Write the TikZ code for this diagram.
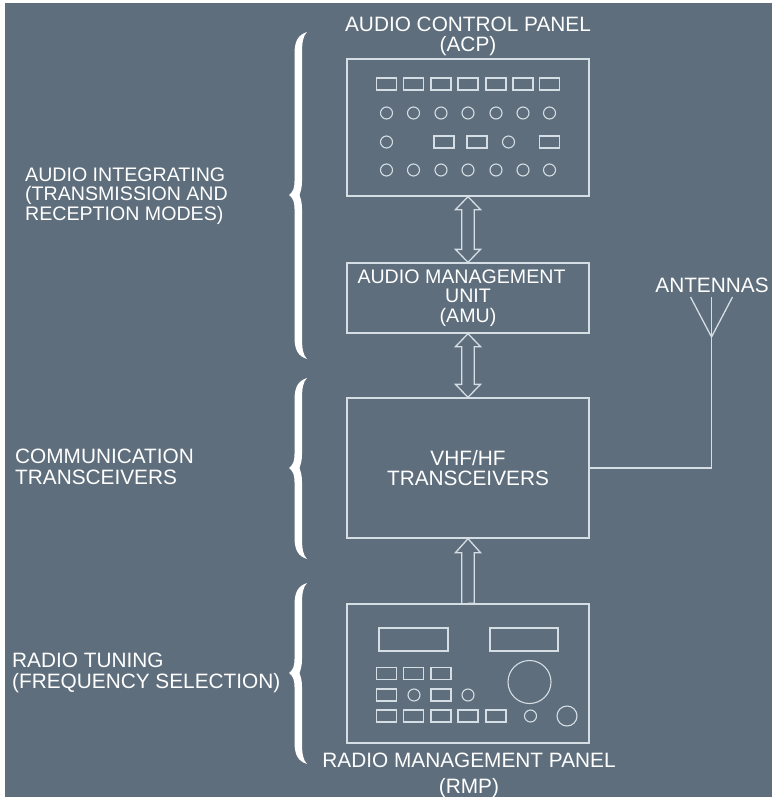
\documentclass[tikz,border=0pt]{standalone}
\usepackage{fontspec}
\setmainfont{Liberation Sans}
\usetikzlibrary{calc}
\definecolor{panelbg}{HTML}{5E6E7C}
\definecolor{panelline}{HTML}{D5DEE4}
\tikzset{
  unitbox/.style={draw=panelline, line width=1.3pt, minimum width=242pt, align=center, inner sep=0pt, text=white, font=\fontsize{20.8}{19.5}\selectfont},
  caption/.style={text=white, align=center, inner sep=0pt, font=\fontsize{20.8}{20}\selectfont},
  sidelabel/.style={text=white, align=left, inner sep=0pt, anchor=west, font=\fontsize{20.8}{20.5}\selectfont},
  smalltext/.style={font=\fontsize{19.6}{19.5}\selectfont},
  wire/.style={draw=panelline, line width=1.3pt},
  fitting/.style={draw=panelline, line width=1.1pt},
  hollowboth/.style={to path={(\tikztostart) -- ++(12.5,13) -- ++(-6.2,0) -- ($(\tikztotarget)+(6.2,-13)$) -- ++(6.3,0) -- (\tikztotarget) -- ++(-12.5,-13) -- ++(6.3,0) -- ($(\tikztostart)+(-6.2,13)$) -- ++(-6.3,0) -- cycle}},
  hollowup/.style={to path={(\tikztostart) -- ($(\tikztostart)+(6.2,0)$) -- ($(\tikztotarget)+(6.2,14)$) -- ++(6.3,0) -- (\tikztotarget) -- ++(-12.5,14) -- ++(6.3,0) -- ($(\tikztostart)+(-6.2,0)$)}}
}
% brace: top, point, bottom
\newcommand{\sidebrace}[3]{
  \fill[white] (307,#1) .. controls (298,#1+3) and (294.5,#1+9) .. (294.5,#1+22) -- (294.5,#2-14)
    .. controls (294.5,#2-7) and (293,#2-3) .. (289,#2) .. controls (293,#2+3) and (294.5,#2+7) .. (294.5,#2+14)
    -- (294.5,#3-22) .. controls (294.5,#3-9) and (298,#3-3) .. (307,#3)
    .. controls (303,#3-4) and (302,#3-10) .. (302,#3-22) -- (302,#2+14)
    .. controls (302,#2+7) and (300.5,#2+3) .. (299.5,#2) .. controls (300.5,#2-3) and (302,#2-7) .. (302,#2-14)
    -- (302,#1+22) .. controls (302,#1+10) and (303,#1+4) .. (307,#1) -- cycle;
}
\newcommand{\btn}[3]{\draw[fitting] (#1-#3,#2-6) rectangle (#1+#3,#2+6);}
\newcommand{\knob}[3]{\draw[fitting] (#1,#2) circle (#3);}

\begin{document}
\begin{tikzpicture}[x=1pt,y=-1pt]
\useasboundingbox (0,0) rectangle (772,797);
\fill[panelbg] (5,3) rectangle (772,797);

\node[unitbox, minimum height=137pt] (acp) at (468,127.5) {};
\node[unitbox, smalltext, minimum height=70pt] (amu) at (468,298) {AUDIO MANAGEMENT\hspace*{13pt}\\UNIT\\(AMU)};
\node[unitbox, minimum height=140pt] (vhf) at (468,468) {VHF/HF\\TRANSCEIVERS};
\node[unitbox, minimum height=139pt] (rmp) at (468,673.5) {};

\node[caption] (acptitle) at (468,36) {AUDIO CONTROL PANEL\\(ACP)};
\node[caption] (rmptitle) at (469,760) {RADIO MANAGEMENT PANEL};
\node[caption] (rmpshort) at (469,788) {(RMP)};
\node[caption] (anttitle) at (712,285) {ANTENNAS};

\node[sidelabel, smalltext] (audiolabel) at (25,196) {AUDIO INTEGRATING\\(TRANSMISSION AND\\RECEPTION MODES)};
\node[sidelabel] (commlabel) at (15,467) {COMMUNICATION\\TRANSCEIVERS};
\node[sidelabel] (tunelabel) at (12,673) {RADIO TUNING\\(FREQUENCY SELECTION)};

\sidebrace{32}{195}{359}
\sidebrace{378}{468}{559}
\sidebrace{583}{673}{764}

\draw[wire] (acp.south) to[hollowboth] (amu.north);
\draw[wire] (amu.south) to[hollowboth] (vhf.north);
\draw[wire] (rmp.north) to[hollowup] (vhf.south);

\coordinate (antfoot) at (711.5,337);
\coordinate (antleft) at (690.5,297);
\coordinate (antmid) at (711.5,297);
\coordinate (antright) at (732.5,297);
\draw[wire] (vhf.east) -| (antfoot);
\draw[wire] (antleft) -- (antfoot) -- (antright);
\draw[wire] (antmid) -- (antfoot);

% acp controls
\foreach \x in {386.5,413.5,441,468,496,523,549.5} {
  \btn{\x}{84}{10}
  \knob{\x}{113}{6}
  \knob{\x}{170}{6}
}
\knob{386.5}{142}{6}
\btn{444}{142}{10}
\btn{477}{142}{10}
\knob{508.5}{142}{6}
\btn{549.5}{142}{10}

% rmp controls
\draw[fitting] (379,628) rectangle (448,651);
\draw[fitting] (490,628) rectangle (558,651);
\foreach \x in {386.5,413.5,441} {
  \btn{\x}{673.5}{10}
}
\btn{386.5}{695}{10}
\knob{414}{695}{6}
\btn{441}{695}{10}
\knob{468}{695}{6}
\foreach \x in {386.5,413.5,441,468,496} {
  \btn{\x}{716}{10}
}
\knob{530.5}{716}{6}
\knob{567}{716}{10}
\knob{529.5}{682}{21.5}
\end{tikzpicture}
\end{document}
